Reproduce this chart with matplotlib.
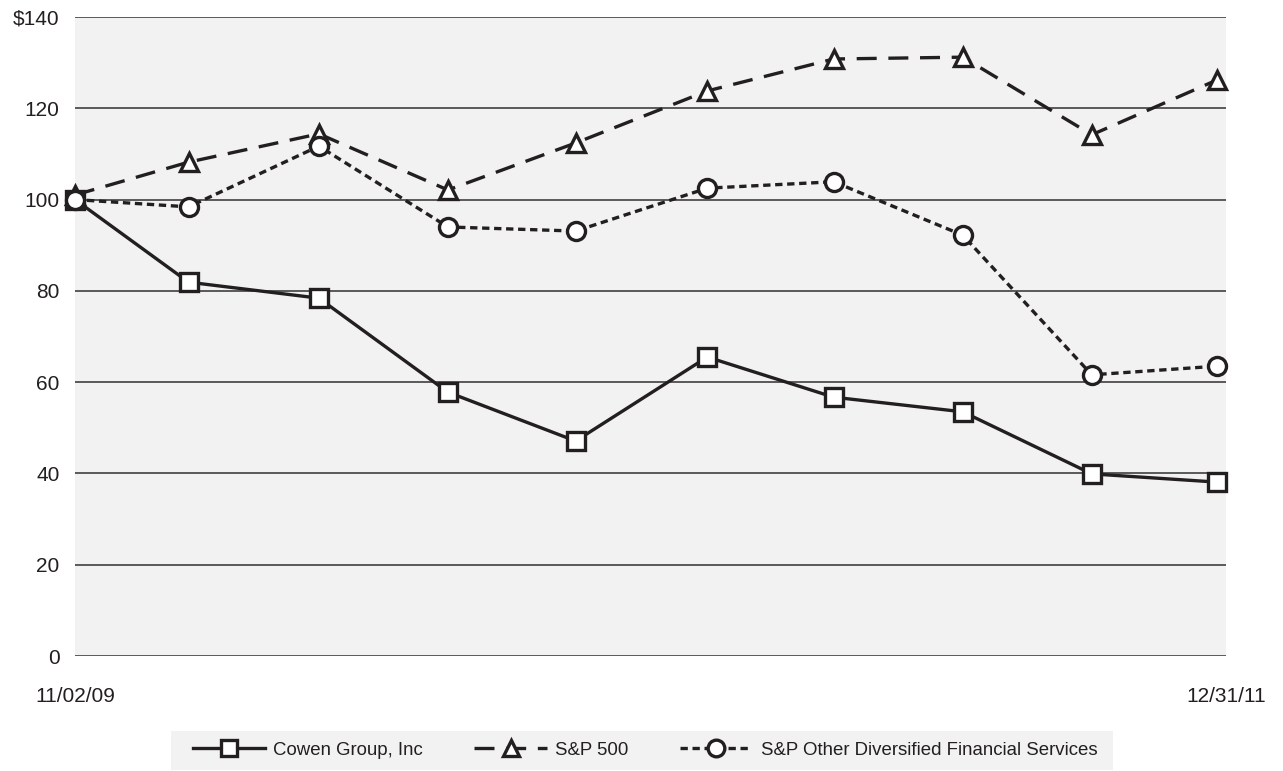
import matplotlib.pyplot as plt
from matplotlib.patches import Rectangle

# Dados
periodos = [0, 0.88, 1.89, 2.89, 3.88, 4.9, 5.88, 6.88, 7.88, 8.85]
rotulos_x = ['11/02/09', '12/31/11']
cowen = [100, 81.9, 78.4, 57.8, 47.1, 65.5, 56.7, 53.5, 39.9, 38.1]
sp500 = [101, 108.2, 114.4, 102.1, 112.4, 123.8, 130.8, 131.2, 114.2, 126.2]
sp_div = [100, 98.4, 111.7, 94.0, 93.1, 102.5, 103.9, 92.2, 61.6, 63.5]
yticks = [0, 20, 40, 60, 80, 100, 120, 140]
nomes = ['Cowen Group, Inc', 'S&P 500', 'S&P Other Diversified Financial Services']


def gerar_grafico():
    plt.rcParams['font.family'] = ['Liberation Sans', 'DejaVu Sans']
    cor = '#231f20'
    fundo = '#f2f2f2'
    W, H = 1283, 771

    fig = plt.figure(figsize=(W / 100, H / 100), dpi=100)
    ax = fig.add_axes([75 / W, 1 - 656 / H, 1151 / W, 639 / H])
    ax.set_facecolor(fundo)

    estilo = dict(color=cor, linewidth=2.4, markersize=13, markerfacecolor='white',
                  markeredgecolor=cor, markeredgewidth=2.4, clip_on=False, zorder=3)

    l1, = ax.plot(periodos, cowen, marker='s', linestyle='-', **estilo)
    l2, = ax.plot(periodos, sp500, marker='^', linestyle=(0, (6, 3.5)), **estilo)
    l3, = ax.plot(periodos, sp_div, marker='o', linestyle=(0, (2.2, 1.4)), **estilo)

    ax.set_xlim(0, 8.92)
    ax.set_ylim(0, 140)
    for y in yticks:
        ax.axhline(y, color='#4d4d4d', linewidth=1.3, zorder=1)

    for s in ax.spines.values():
        s.set_visible(False)

    ax.set_yticks(yticks)
    ax.set_yticklabels(['$' + str(y) if y == 140 else str(y) for y in yticks])
    ax.set_xticks([0, 8.92])
    ax.set_xticklabels(rotulos_x)
    ax.tick_params(length=0, labelsize=15, labelcolor=cor)
    ax.tick_params(axis='y', pad=11)
    ax.tick_params(axis='x', pad=22)

    # caixa cinza da legenda
    fig.patches.append(Rectangle((171 / W, 1 - 770 / H), 942 / W, 39 / H,
                                 transform=fig.transFigure, facecolor=fundo,
                                 edgecolor='none', zorder=0))

    leg = fig.legend([l1, l2, l3], nomes,
                     loc='center', bbox_to_anchor=(645 / W, 1 - 750 / H), ncol=3,
                     frameon=False, handlelength=3.9, handletextpad=0.45,
                     columnspacing=2.75, fontsize=13.4)
    for t in leg.get_texts():
        t.set_color(cor)
    for h in leg.legend_handles:
        h.set_markersize(12)

    plt.savefig('out.png', dpi=100)
    plt.close()


if __name__ == "__main__":
    gerar_grafico()
